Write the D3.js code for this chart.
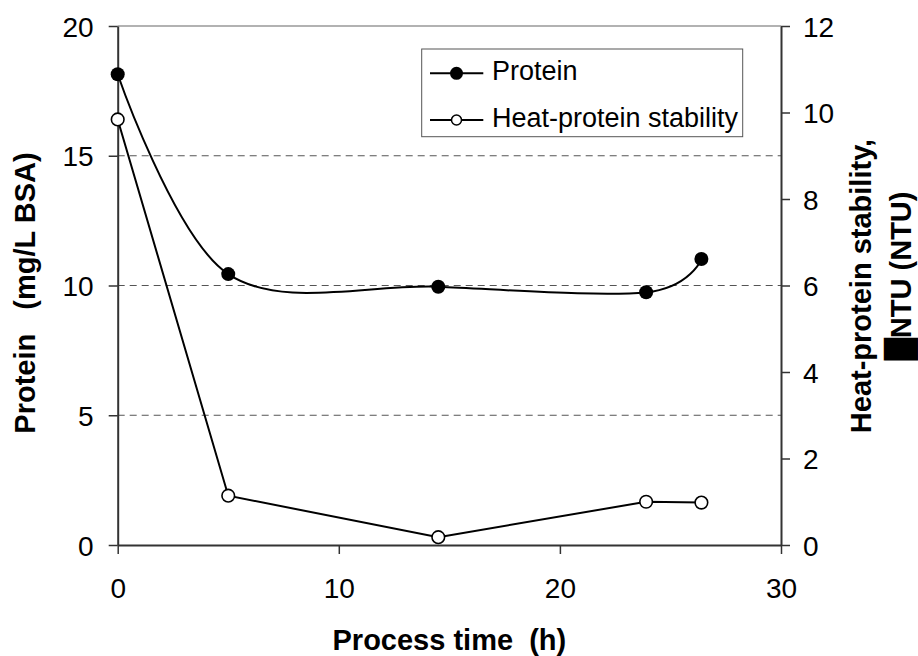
<!DOCTYPE html>
<html>
<head>
<meta charset="utf-8">
<script src="https://cdn.jsdelivr.net/npm/d3@7"></script>
<style>
  html, body { margin: 0; padding: 0; background: #fff; }
  svg { display: block; font-family: "Liberation Sans", Arial, sans-serif; }
  text { white-space: pre; }
</style>
</head>
<body>
<svg id="chart" width="918" height="656"></svg>
<script>
// ---- data ----
const times = [0, 5, 14.5, 23.9, 26.4];
const protein = [18.14, 10.44, 9.95, 9.74, 11.02];
const heatStability = [9.84, 1.14, 0.18, 1.0, 0.98];
const xTicks = [0, 10, 20, 30];
const yLeftTicks = [0, 5, 10, 15, 20];
const yRightTicks = [0, 2, 4, 6, 8, 10, 12];
const gridValues = [5, 10, 15];
const seriesNames = ["Protein", "Heat-protein stability"];
const xTitle = "Process time\u00A0\u00A0(h)";
const yLeftTitle = "Protein\u00A0\u00A0\u00A0(mg/L BSA)";
const yRightTitle1 = "Heat-protein stability,";
const yRightTitle2Box = "\u2588";
const yRightTitle2 = "NTU (NTU)";

// ---- layout ----
const L = 117.7, R = 781, T = 26, B = 545;
const svg = d3.select("#chart");
svg.append("rect").attr("width", 918).attr("height", 656).attr("fill", "#fff");

const x = d3.scaleLinear().domain([0, 30]).range([L, R]);
const yL = d3.scaleLinear().domain([0, 20]).range([B, T]);
const yR = d3.scaleLinear().domain([0, 12]).range([B, T]);

// gridlines
svg.append("g").selectAll("line").data(gridValues).join("line")
  .attr("x1", L).attr("x2", R)
  .attr("y1", d => yL(d)).attr("y2", d => yL(d))
  .attr("stroke", "#555").attr("stroke-width", 1)
  .attr("stroke-dasharray", "7,5");

// top border
svg.append("line").attr("x1", L).attr("x2", R).attr("y1", T).attr("y2", T)
  .attr("stroke", "#999").attr("stroke-width", 1.5);

// axes
const tickFont = 28;
const gx = svg.append("g").attr("transform", `translate(0,${B})`)
  .call(d3.axisBottom(x).tickValues(xTicks).tickSize(9).tickPadding(24).tickSizeOuter(0));
const gyl = svg.append("g").attr("transform", `translate(${L},0)`)
  .call(d3.axisLeft(yL).tickValues(yLeftTicks).tickSize(9).tickPadding(15).tickSizeOuter(0));
const gyr = svg.append("g").attr("transform", `translate(${R},0)`)
  .call(d3.axisRight(yR).tickValues(yRightTicks).tickSize(9).tickPadding(13).tickSizeOuter(0));

[gx, gyl, gyr].forEach(g => {
  g.select(".domain").attr("stroke", "#333").attr("stroke-width", 2);
  g.selectAll(".tick line").attr("stroke", "#333").attr("stroke-width", 1.5);
  g.selectAll(".tick text").attr("font-size", tickFont).attr("fill", "#000")
    .attr("font-family", "'Liberation Sans', Arial, sans-serif");
});
gx.selectAll(".tick text").attr("dy", "0.71em");
gyl.selectAll(".tick text").attr("dy", "0.36em");
gyr.selectAll(".tick text").attr("dy", "0.36em");

// lines
const proteinPts = times.map((t, i) => [t, protein[i]]);
const heatPts = times.map((t, i) => [t, heatStability[i]]);

svg.append("path").datum(proteinPts)
  .attr("d", d3.line().x(d => x(d[0])).y(d => yL(d[1])).curve(d3.curveCardinal.tension(0)))
  .attr("fill", "none").attr("stroke", "#000").attr("stroke-width", 2);

svg.append("path").datum(heatPts)
  .attr("d", d3.line().x(d => x(d[0])).y(d => yR(d[1])))
  .attr("fill", "none").attr("stroke", "#000").attr("stroke-width", 2);

// markers
svg.append("g").selectAll("circle").data(proteinPts).join("circle")
  .attr("cx", d => x(d[0])).attr("cy", d => yL(d[1])).attr("r", 7)
  .attr("fill", "#000");
svg.append("g").selectAll("circle").data(heatPts).join("circle")
  .attr("cx", d => x(d[0])).attr("cy", d => yR(d[1])).attr("r", 6.3)
  .attr("fill", "#fff").attr("stroke", "#000").attr("stroke-width", 1.6);

// legend
const lg = svg.append("g");
lg.append("rect").attr("x", 421.7).attr("y", 49).attr("width", 321).attr("height", 87.7)
  .attr("fill", "#fff").attr("stroke", "#555").attr("stroke-width", 1);
const rows = [73.3, 120];
seriesNames.forEach((name, i) => {
  lg.append("line").attr("x1", 430).attr("x2", 483.3).attr("y1", rows[i]).attr("y2", rows[i])
    .attr("stroke", "#000").attr("stroke-width", 2);
  if (i === 0) {
    lg.append("circle").attr("cx", 456.5).attr("cy", rows[i]).attr("r", 6.5).attr("fill", "#000");
  } else {
    lg.append("circle").attr("cx", 456.5).attr("cy", rows[i]).attr("r", 5)
      .attr("fill", "#fff").attr("stroke", "#000").attr("stroke-width", 1.5);
  }
  lg.append("text").attr("x", 492).attr("y", rows[i] + 6.5)
    .attr("font-size", 27).attr("fill", "#000").text(name);
});

// titles
svg.append("text").attr("x", (L + R) / 2).attr("y", 650)
  .attr("text-anchor", "middle").attr("font-size", 29).attr("font-weight", "bold")
  .text(xTitle);

svg.append("text").attr("transform", `translate(34.5,293) rotate(-90)`)
  .attr("text-anchor", "middle").attr("font-size", 29).attr("font-weight", "bold")
  .text(yLeftTitle);

svg.append("text").attr("transform", `translate(871,286) rotate(-90)`)
  .attr("text-anchor", "middle").attr("font-size", 29).attr("font-weight", "bold")
  .text(yRightTitle1);

const t2 = svg.append("text").attr("transform", `translate(911,276) rotate(-90)`)
  .attr("text-anchor", "middle").attr("font-size", 29).attr("font-weight", "bold");
t2.append("tspan").attr("font-family", "'DejaVu Sans', sans-serif").text(yRightTitle2Box);
t2.append("tspan").text(yRightTitle2);
</script>
</body>
</html>
